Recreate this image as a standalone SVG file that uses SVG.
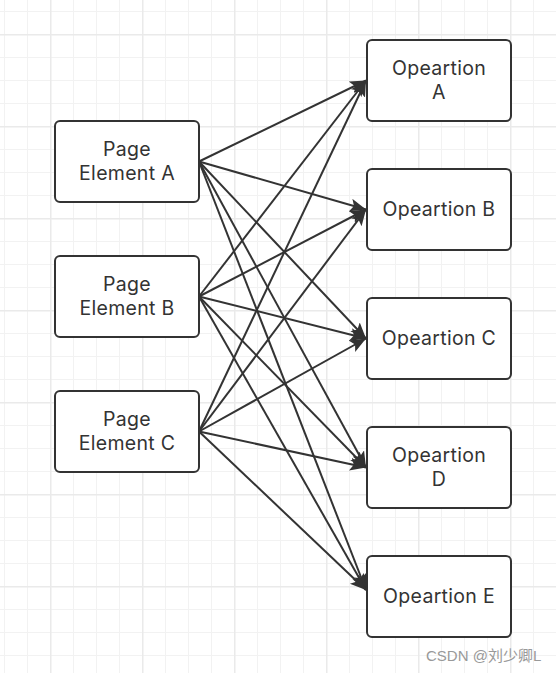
<svg xmlns="http://www.w3.org/2000/svg" width="556" height="673" viewBox="0 0 556 673">
<style>
.node rect{fill:#fff;stroke:#333;stroke-width:2}
.node text{font-family:Inter,"Noto Sans",sans-serif;font-size:19.5px;letter-spacing:0.3px;fill:#333;text-anchor:middle}
.edges line{stroke:#333;stroke-width:2;marker-end:url(#arr)}
.wm{font-family:"Liberation Sans","Noto Sans CJK SC",sans-serif;font-size:15px;fill:#999}
</style>
<defs>
<pattern id="minor" patternUnits="userSpaceOnUse" x="4" y="11" width="23" height="23">
<rect x="0" y="0" width="23" height="1" fill="#f2f2f2"/>
<rect x="0" y="0" width="1" height="23" fill="#f2f2f2"/>
</pattern>
<pattern id="major" patternUnits="userSpaceOnUse" x="50" y="34" width="92" height="92">
<rect x="0" y="0" width="92" height="1.5" fill="#eaeaea"/>
<rect x="0" y="0" width="1.5" height="92" fill="#eaeaea"/>
</pattern>
<marker id="arr" markerUnits="userSpaceOnUse" markerWidth="18" markerHeight="14" refX="16" refY="6.5" orient="auto">
<path d="M0,0 L16,6.5 L0,13 L3.5,6.5 z" fill="#333"/>
</marker>
</defs>
<rect width="556" height="673" fill="#fff"/>
<rect width="556" height="673" fill="url(#minor)"/>
<rect width="556" height="673" fill="url(#major)"/>
<g class="edges" id="connectors">
<line x1="199" y1="161.5" x2="366" y2="80.5"/>
<line x1="199" y1="161.5" x2="366" y2="209.5"/>
<line x1="199" y1="161.5" x2="366" y2="338.5"/>
<line x1="199" y1="161.5" x2="366" y2="467.5"/>
<line x1="199" y1="161.5" x2="366" y2="590"/>
<line x1="199" y1="296.5" x2="366" y2="80.5"/>
<line x1="199" y1="296.5" x2="366" y2="209.5"/>
<line x1="199" y1="296.5" x2="366" y2="338.5"/>
<line x1="199" y1="296.5" x2="366" y2="467.5"/>
<line x1="199" y1="296.5" x2="366" y2="590"/>
<line x1="199" y1="431.5" x2="366" y2="80.5"/>
<line x1="199" y1="431.5" x2="366" y2="209.5"/>
<line x1="199" y1="431.5" x2="366" y2="338.5"/>
<line x1="199" y1="431.5" x2="366" y2="467.5"/>
<line x1="199" y1="431.5" x2="366" y2="590"/>
</g>
<g class="node" id="pageA"><rect x="55" y="121" width="144" height="81" rx="5"/><text x="127" y="156">Page</text><text x="127" y="180">Element A</text></g>
<g class="node" id="pageB"><rect x="55" y="256" width="144" height="81" rx="5"/><text x="127" y="291">Page</text><text x="127" y="315">Element B</text></g>
<g class="node" id="pageC"><rect x="55" y="391" width="144" height="81" rx="5"/><text x="127" y="426">Page</text><text x="127" y="450">Element C</text></g>
<g class="node" id="opA"><rect x="367" y="40" width="144" height="81" rx="5"/><text x="439" y="75">Opeartion</text><text x="439" y="99">A</text></g>
<g class="node" id="opB"><rect x="367" y="169" width="144" height="81" rx="5"/><text x="439" y="216">Opeartion B</text></g>
<g class="node" id="opC"><rect x="367" y="298" width="144" height="81" rx="5"/><text x="439" y="345">Opeartion C</text></g>
<g class="node" id="opD"><rect x="367" y="427" width="144" height="81" rx="5"/><text x="439" y="462">Opeartion</text><text x="439" y="486">D</text></g>
<g class="node" id="opE"><rect x="367" y="556" width="144" height="81" rx="5"/><text x="439" y="603">Opeartion E</text></g>
<text class="wm" x="426" y="661">CSDN @刘少卿L</text>
</svg>
